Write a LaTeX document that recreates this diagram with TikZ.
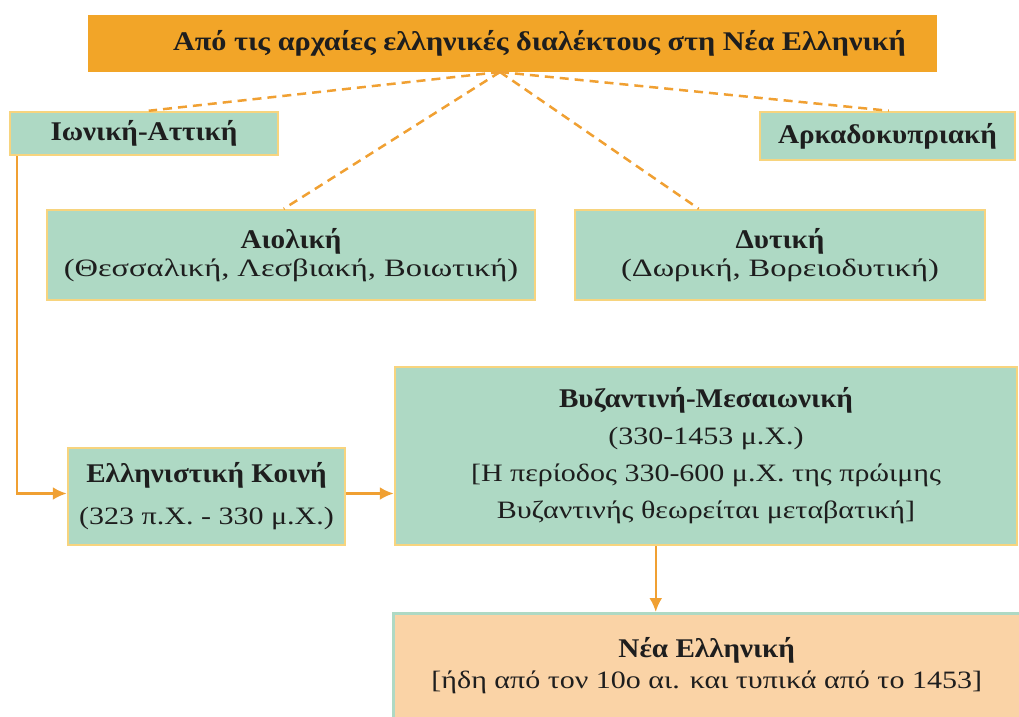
\documentclass[tikz,border=0pt]{standalone}
\usepackage{fontspec}
\setmainfont{Liberation Serif}
\newfontfamily\hdfam[FakeStretch=1.08]{Liberation Serif}
\newfontfamily\titlefam[FakeStretch=1.12]{Liberation Serif}
\newfontfamily\bodyfam[FakeStretch=1.2]{Liberation Serif}
\newfontfamily\bodywide[FakeStretch=1.3]{Liberation Serif}
\usetikzlibrary{arrows.meta,calc}
\definecolor{boxgreen}{HTML}{AED9C4}
\definecolor{boxedge}{HTML}{F7D47E}
\definecolor{titleor}{HTML}{F2A528}
\definecolor{neafill}{HTML}{FAD3A6}
\definecolor{lineor}{HTML}{F0A032}
\definecolor{ink}{HTML}{1E1E1E}
\newcommand{\hd}{\hdfam\bfseries\fontsize{27}{30}\selectfont}
\tikzset{
  gbox/.style={draw=boxedge, line width=2.5pt, fill=boxgreen, text=ink, align=center, inner sep=0pt},
  dash line/.style={draw=lineor, line width=2.5pt, dash pattern=on 9pt off 6pt},
  conn/.style={draw=lineor, line width=2.5pt, -{Latex[length=14pt,width=13pt]}},
}
\begin{document}
\begin{tikzpicture}[x=1pt,y=-1pt]
\useasboundingbox (0,0) rectangle (1019,716);
% title
\node[fill=titleor, minimum width=849pt, minimum height=57pt, inner sep=0pt, text=ink,
  font=\titlefam\bfseries\fontsize{27}{30}\selectfont] (title) at (512.5,43.5) {\hspace*{54pt}Από τις αρχαίες ελληνικές διαλέκτους στη Νέα Ελληνική};
\coordinate (hub) at (500,72);
% boxes
\node[gbox, font=\hd, minimum width=268pt, minimum height=43pt] (ion) at (144,133.5) {Ιωνική-Αττική};
\node[gbox, font=\hd, minimum width=255pt, minimum height=48pt] (arc) at (887.5,136) {Αρκαδοκυπριακή};
\node[gbox, font=\bodywide\fontsize{25}{28}\selectfont, minimum width=488pt, minimum height=90pt] (aeo) at (291,255)
  {{\hd Αιολική}\\(Θεσσαλική, Λεσβιακή, Βοιωτική)};
\node[gbox, font=\bodywide\fontsize{25}{28}\selectfont, minimum width=410pt, minimum height=90pt] (dyt) at (780,255)
  {{\hd Δυτική}\\(Δωρική, Βορειοδυτική)};
\node[gbox, font=\bodyfam\fontsize{25}{42}\selectfont, minimum width=277pt, minimum height=97pt] (koi) at (206.5,496.5)
  {{\hd Ελληνιστική Κοινή}\\(323 π.Χ. - 330 μ.Χ.)};
\node[gbox, font=\bodyfam\fontsize{25}{37}\selectfont, minimum width=622pt, minimum height=178pt] (byz) at (706,456)
  {{\hd Βυζαντινή-Μεσαιωνική}\\(330-1453 μ.Χ.)\\{}{[}Η περίοδος 330-600 μ.Χ. της πρώιμης\\Βυζαντινής θεωρείται μεταβατική{]}};
\node[draw=boxgreen, line width=2.5pt, fill=neafill, text=ink, align=center, inner sep=0pt,
  font=\bodyfam\fontsize{25}{31}\selectfont,
  minimum width=627pt, minimum height=116pt, anchor=north west] (nea) at (392,612)
  {{\hd Νέα Ελληνική}\\{}{[}ήδη από τον 10ο αι. και τυπικά από το 1453{]}\rule[-16pt]{0pt}{16pt}};
% dashed connectors
\coordinate (ionTop) at ($(ion.north west)+(140,0)$);
\coordinate (aeoTop) at ($(aeo.north west)+(238,0)$);
\coordinate (dytTop) at ($(dyt.north west)+(125,0)$);
\coordinate (arcTop) at ($(arc.north west)+(130,0)$);
\draw[dash line] (hub) -- (ionTop);
\draw[dash line] (hub) -- (aeoTop);
\draw[dash line] (hub) -- (dytTop);
\draw[dash line] (hub) -- (arcTop);
% arrows
\coordinate (ionfoot) at ($(ion.south west)+(8,0)$);
\coordinate (koiIn) at ($(koi.west)+(0,-3)$);
\coordinate (koiOut) at ($(koi.east)+(0,-3)$);
\draw[conn] (ionfoot) |- (koiIn);
\draw[conn] (koiOut) -- (koiOut -| byz.west);
\coordinate (byzfoot) at ($(byz.south west)+(262,0)$);
\draw[conn] (byzfoot) -- (byzfoot |- nea.north);
\end{tikzpicture}
\end{document}
